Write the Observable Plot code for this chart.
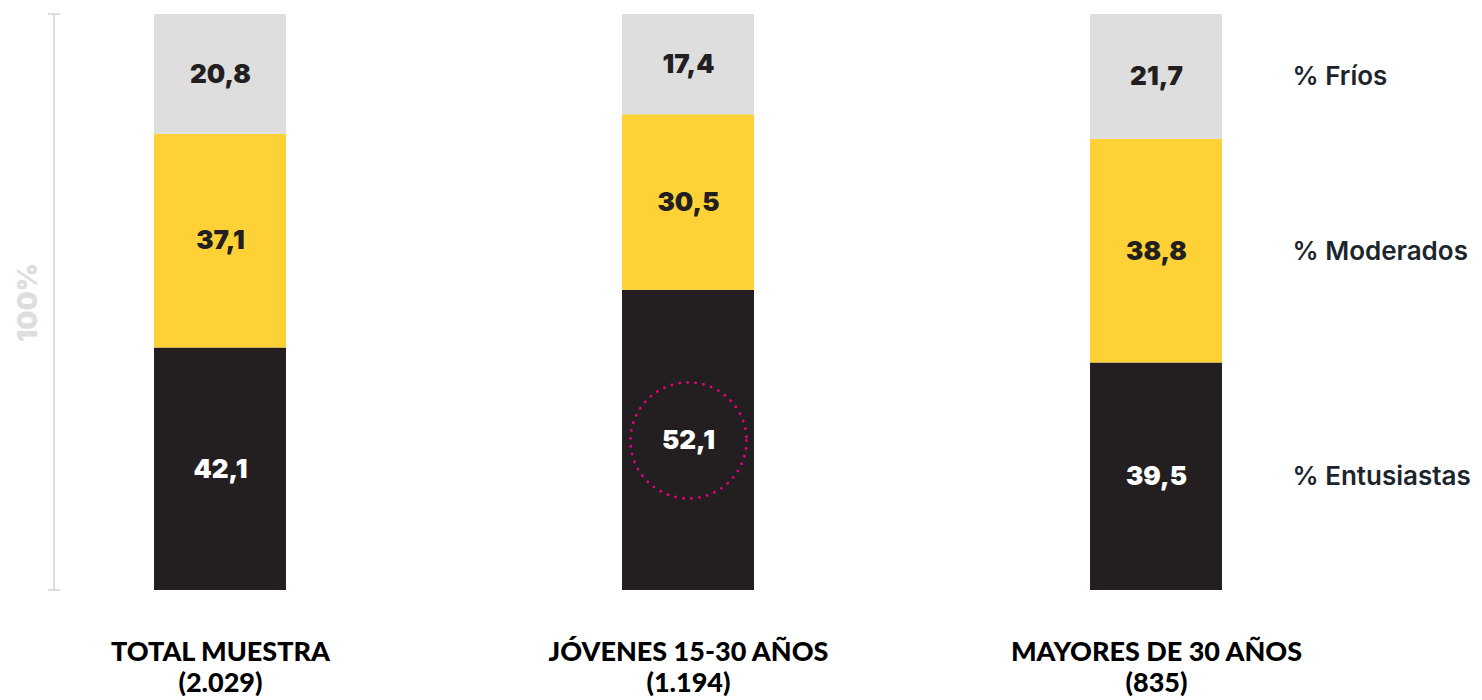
<!DOCTYPE html>
<html><head><meta charset="utf-8">
<script src="https://cdn.jsdelivr.net/npm/d3@7"></script>
<script src="https://cdn.jsdelivr.net/npm/@observablehq/plot@0.6"></script>
<style>body{margin:0;background:#fff}</style>
</head><body><div id="chart"></div>
<script>
const groups = ["TOTAL MUESTRA", "JÓVENES 15-30 AÑOS", "MAYORES DE 30 AÑOS"];
const sampleSizes = ["(2.029)", "(1.194)", "(835)"];
const series = ["% Entusiastas", "% Moderados", "% Fríos"];
const entusiastas = [42.1, 52.1, 39.5];
const moderados = [37.1, 30.5, 38.8];
const frios = [20.8, 17.4, 21.7];
const highlightGroup = "JÓVENES 15-30 AÑOS";
const highlightSeries = "% Entusiastas";
const axisLabel = "100%";
const seriesColors = ["#231f20", "#fed136", "#dedede"];

const values = [entusiastas, moderados, frios];
const data = series.flatMap((s, i) => groups.map((g, j) => ({group: g, series: s, value: values[i][j]})));
const fmt = v => v.toFixed(1).replace(".", ",");
const nLabel = new Map(groups.map((g, i) => [g, sampleSizes[i]]));
const lastGroup = groups[groups.length - 1];
const darkSeries = series[0];

const leftAxis = (index, scales, vals, dims) => {
  const g = d3.create("svg:g").attr("stroke", "#dedede").attr("stroke-width", 2);
  const x = dims.marginLeft;
  const y0 = scales.y(0), y1 = scales.y(100);
  g.append("line").attr("x1", x).attr("x2", x).attr("y1", y0).attr("y2", y1);
  g.append("line").attr("x1", x - 6).attr("x2", x + 6).attr("y1", y0).attr("y2", y0);
  g.append("line").attr("x1", x - 6).attr("x2", x + 6).attr("y1", y1).attr("y2", y1);
  return g.node();
};

const stackOpts = {x: "group", y: "value", z: "series"};

const chart = Plot.plot({
  width: 1482, height: 700,
  marginTop: 14, marginBottom: 110, marginLeft: 54, marginRight: 0,
  x: {domain: groups, range: [-15.25, 1390.25], paddingInner: 0.718, paddingOuter: 0.359, axis: null},
  y: {domain: [0, 100], axis: null},
  color: {domain: series, range: seriesColors},
  marks: [
    leftAxis,
    Plot.text([axisLabel], {y: [50], frameAnchor: "left", textAnchor: "middle", dx: -26, rotate: -90, text: d => d,
      fill: "#dedede", fontSize: 27, fontWeight: 900, fontFamily: "Inter"}),
    Plot.barY(data, {...stackOpts, fill: "series"}),
    Plot.text(data, Plot.stackY({...stackOpts, text: d => d.series === darkSeries ? fmt(d.value) : null,
      fill: "#ffffff", fontSize: 26, fontWeight: 900, fontFamily: "Inter"})),
    Plot.text(data, Plot.stackY({...stackOpts, text: d => d.series !== darkSeries ? fmt(d.value) : null,
      fill: "#231f20", fontSize: 26, fontWeight: 900, fontFamily: "Inter"})),
    Plot.dot(data, Plot.filter(d => d.group === highlightGroup && d.series === highlightSeries,
      Plot.stackY({...stackOpts, r: 58, fill: "none", stroke: "#e6007e",
        strokeWidth: 2.8, strokeDasharray: "0.1 7.9", strokeLinecap: "round"}))),
    Plot.text(data, Plot.filter(d => d.group === lastGroup,
      Plot.stackY({...stackOpts, text: "series", textAnchor: "start", dx: 136,
        fill: "#1d252c", fontSize: 26, fontWeight: 600, fontFamily: "Inter"}))),
    Plot.text(groups, {x: d => d, frameAnchor: "bottom", lineAnchor: "top", dy: 48,
      text: d => d + "\n" + nLabel.get(d), lineHeight: 1.15,
      fill: "#000", fontSize: 27, fontWeight: 900, fontFamily: "Lato"})
  ]
});
document.getElementById("chart").append(chart);
</script>
</body></html>
